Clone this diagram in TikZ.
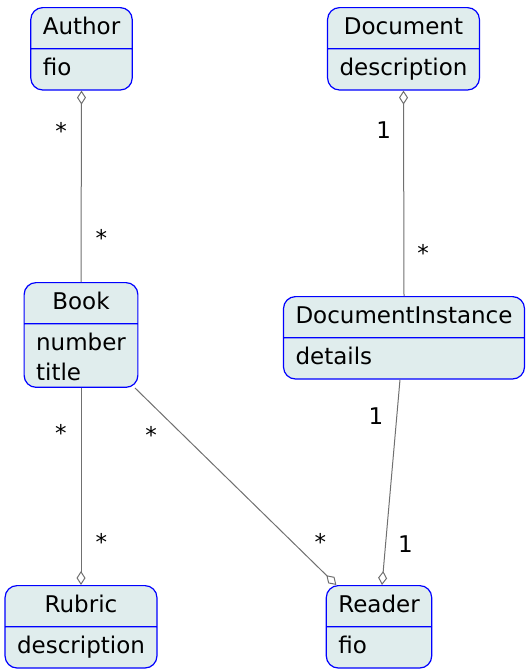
\documentclass[tikz,border=0pt]{standalone}
\usepackage{fontspec}
\setmainfont{DejaVu Sans}
\usepackage{tikz}
\usetikzlibrary{positioning}
\usetikzlibrary{shapes.multipart}
\usetikzlibrary{arrows.meta}
\definecolor{umlfill}{RGB}{224,237,237}
\definecolor{umlline}{RGB}{112,112,112}
\newcommand{\rowstrut}{\rule[-8pt]{0pt}{28pt}}

\begin{document}
\begin{tikzpicture}[
    x=1pt, y=-1pt,
    every node/.style={font=\fontsize{23}{30}\selectfont},
    entity/.style={
      rectangle split,
      rectangle split parts=2,
      rectangle split part align={center,left},
      draw=blue,
      fill=umlfill,
      line width=1.2pt,
      rounded corners=12pt,
      inner xsep=12pt,
      inner ysep=6pt,
      align=left,
      anchor=north
    },
    aggr/.style={
      draw=umlline,
      line width=1pt,
      arrows={Diamond[open, width=9pt, length=14pt]-}
    },
    mult/.style={inner sep=0pt}
  ]
  \useasboundingbox (0,0) rectangle (531,672);

  % entities
  \node[entity] (author) at (81.5,7) {\rowstrut Author \nodepart{two} \rowstrut fio};
  \node[entity] (document) at (403.5,7) {\rowstrut Document \nodepart{two} \rowstrut description};
  \node[entity] (book) at (81,282) {\rowstrut Book \nodepart{two} \rowstrut number\\title};
  \node[entity] (docinst) at (404,296) {\rowstrut DocumentInstance \nodepart{two} \rowstrut details};
  \node[entity] (rubric) at (81,585) {\rowstrut Rubric \nodepart{two} \rowstrut description};
  \node[entity] (reader) at (379,585) {\rowstrut Reader \nodepart{two} \rowstrut fio};

  % links
  \draw[aggr] (author.south) -- (book.north)
    node[mult, pos=0.21, left=14pt] {*}
    node[mult, pos=0.77, right=14pt] {*};
  \draw[aggr] (document.south) -- (docinst.north)
    node[mult, pos=0.19, left=12pt] {1}
    node[mult, pos=0.79, right=13pt] {*};
  \draw[aggr] (rubric.north) -- (book.south)
    node[mult, pos=0.77, left=14pt] {*}
    node[mult, pos=0.22, right=14pt] {*};
  \draw[aggr] (reader) -- (book)
    node[mult, pos=0.76, left=26pt] {*}
    node[mult, pos=0.22, right=22pt] {*};
  \draw[aggr] ([xshift=3pt]reader.north) -- ([xshift=-4pt]docinst.south)
    node[mult, pos=0.82, left=13pt] {1}
    node[mult, pos=0.20, right=12pt] {1};
\end{tikzpicture}
\end{document}
